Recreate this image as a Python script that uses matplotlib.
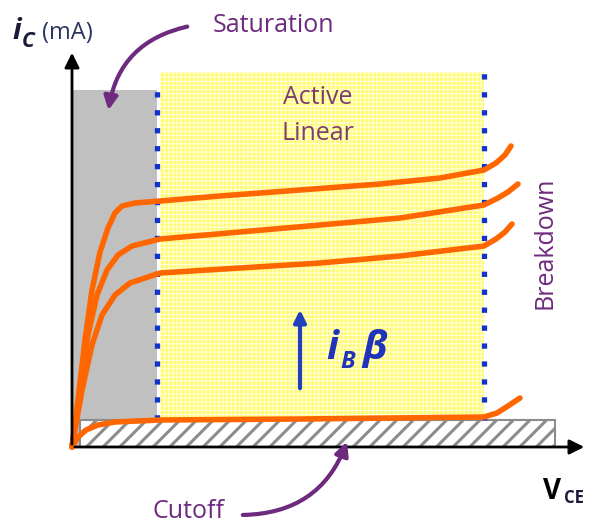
import matplotlib.pyplot as plt
from matplotlib.patches import Rectangle, FancyArrowPatch

# Curves: v = V_CE, ic = i_C (drawing units, origin at the axes corner)
top_v = [0, 6, 13, 20, 28, 36, 43, 50, 63, 88, 148, 228, 308, 368, 412, 424, 433, 439]
top_ic = [0, 47, 107, 157, 195, 219, 234, 241, 244, 246, 251, 257, 263, 269, 277, 284, 292, 301]

mid_v = [0, 8, 16, 25, 35, 46, 60, 88, 168, 248, 328, 412, 426, 436, 446]
mid_ic = [0, 57, 112, 152, 177, 192, 201, 208, 215, 222, 229, 242, 249, 255, 263]

low_v = [0, 10, 20, 30, 43, 58, 88, 168, 248, 328, 412, 424, 433, 440]
low_ic = [0, 57, 102, 132, 152, 164, 174, 179, 184, 191, 201, 208, 215, 223]

cut_v = [0, 6, 14, 26, 43, 88, 228, 412, 425, 436, 448]
cut_ic = [0, 10, 17, 22, 25, 27, 28, 30, 34, 41, 49]

# region edges
sat_edge = 85       # end of saturation
act_edge = 412      # end of active region
sat_top = 357
act_top = 375
cut_top = 27
cut_end = 483

orange = '#FF6600'
purple = '#6E2A7E'
blue = '#1133CC'
ink = '#1a1a3a'

fig = plt.figure(figsize=(5.89, 5.25), dpi=100)
ax = fig.add_axes([0, 0, 1, 1])
ax.set_xlim(-72, 517)
ax.set_ylim(-78, 447)
ax.axis('off')

# saturation (gray)
ax.add_patch(Rectangle((0, 0), sat_edge, sat_top, facecolor='#C0C0C0', edgecolor='none', zorder=1))
# active region (yellow grid)
plt.rcParams['hatch.linewidth'] = 0.8
ax.add_patch(Rectangle((sat_edge + 3, cut_top), act_edge - sat_edge - 3, act_top - cut_top,
                       facecolor='#FFFA70', edgecolor='#FFFFD8', hatch='++++', linewidth=0, zorder=1))
# cutoff (hatched)
plt.rcParams['hatch.linewidth'] = 2.2
ax.add_patch(Rectangle((8, 0), cut_end - 8, cut_top, facecolor='white', edgecolor='#8C8C8C',
                       hatch='//', linewidth=1.5, zorder=2))

# dotted region borders
ax.plot([sat_edge, sat_edge], [cut_top, 367], color=blue, lw=3.8, ls=(0, (1, 2.4)), zorder=3)
ax.plot([act_edge, act_edge], [cut_top, act_top], color=blue, lw=3.8, ls=(0, (1, 2.4)), zorder=3)

# characteristic curves
for v, ic in [(top_v, top_ic), (mid_v, mid_ic), (low_v, low_ic), (cut_v, cut_ic)]:
    ax.plot(v, ic, color=orange, lw=4, solid_capstyle='round', solid_joinstyle='round', zorder=4)

# axes with arrows
ax.annotate('', xy=(0, 397), xytext=(0, 0),
            arrowprops=dict(arrowstyle='-|>', lw=2, color='black', mutation_scale=22), zorder=5)
ax.annotate('', xy=(515, 0), xytext=(0, 0),
            arrowprops=dict(arrowstyle='-|>', lw=2, color='black', mutation_scale=22), zorder=5)

# labels
font = ['Open Sans', 'DejaVu Sans']
ax.text(-60, 408, 'i', fontsize=21, fontweight='bold', fontstyle='italic', color=ink,
        family=font, ha='left', va='baseline')
ax.text(-50, 400, 'C', fontsize=15, fontweight='bold', fontstyle='italic', color=ink,
        family=font, ha='left', va='baseline')
ax.text(-30, 408, '(mA)', fontsize=17, color='#2b3560', family=font, ha='left', va='baseline')

ax.text(471, -52, 'V', fontsize=20, fontweight='bold', color='black', family=font, ha='left', va='baseline')
ax.text(492, -56, 'CE', fontsize=12, fontweight='bold', color=ink, family=font, ha='left', va='baseline')

ax.text(202, 421, 'Saturation', fontsize=18, color=purple, family=font, ha='center', va='center')
ax.text(246, 349, 'Active', fontsize=18, color='#7A3E6E', family=font, ha='center', va='center')
ax.text(246, 313, 'Linear', fontsize=18, color='#7A3E6E', family=font, ha='center', va='center')
ax.text(473, 204, 'Breakdown', fontsize=18, color=purple, family=font, ha='center', va='center',
        rotation=90)
ax.text(117, -65, 'Cutoff', fontsize=18, color=purple, family=font, ha='center', va='center')

# i_B beta arrow
ax.annotate('', xy=(228, 140), xytext=(228, 56),
            arrowprops=dict(arrowstyle='-|>', lw=3, color='#1F3FBF', mutation_scale=18), zorder=5)
ax.text(254, 88, 'i', fontsize=29, fontweight='bold', fontstyle='italic', color='#2233BB',
        family=font, ha='left', va='baseline')
ax.text(268, 79, 'B', fontsize=17, fontweight='bold', fontstyle='italic', color='#2233BB',
        family=font, ha='left', va='baseline')
ax.text(290, 88, 'β', fontsize=29, fontweight='bold', fontstyle='italic', color='#2233BB',
        family=font, ha='left', va='baseline')

# pointer arrows
ax.add_patch(FancyArrowPatch((118, 421), (36, 334), connectionstyle='arc3,rad=0.35',
                             arrowstyle='-|>', mutation_scale=20, lw=3, color=purple, zorder=6))
ax.add_patch(FancyArrowPatch((168, -68), (276, 8), connectionstyle='arc3,rad=0.35',
                             arrowstyle='-|>', mutation_scale=20, lw=3, color=purple, zorder=6))

fig.savefig('out.png', dpi=100)
